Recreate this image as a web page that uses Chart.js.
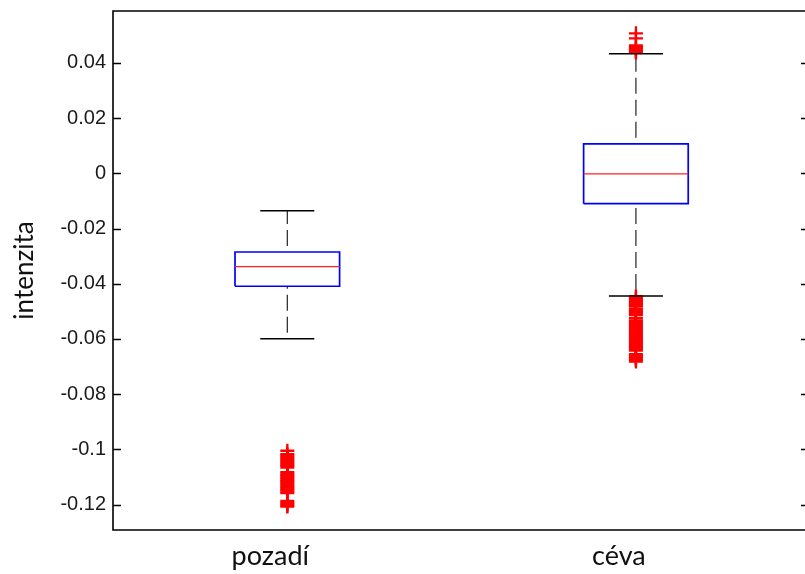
<!DOCTYPE html>
<html>
<head>
<meta charset="utf-8">
<script src="https://cdn.jsdelivr.net/npm/chart.js@4.4.1/dist/chart.umd.min.js"></script>
<style>
  html, body { margin: 0; padding: 0; overflow: hidden; background: #fff; }
  canvas { display: block; }
</style>
</head>
<body>
<canvas id="boxChart" width="805" height="574"></canvas>
<script>
// box plot values
const categories = ['pozadí', 'céva'];
const whiskerLow = [-0.0599, -0.0444];
const quartile1 = [-0.0409, -0.0110];
const medians = [-0.0338, -0.0002];
const quartile3 = [-0.0285, 0.0107];
const whiskerHigh = [-0.0136, 0.0433];

// outliers
const outliersPozadi = [-0.1005, -0.1017, -0.1022, -0.1028, -0.1033, -0.1039, -0.1044, -0.1050,
  -0.1055, -0.1060, -0.1066, -0.1082, -0.1088, -0.1093, -0.1098, -0.1104, -0.1109, -0.1115,
  -0.1120, -0.1126, -0.1131, -0.1137, -0.1142, -0.1147, -0.1153, -0.1158, -0.1187, -0.1193,
  -0.1198, -0.1204, -0.1207];
const outliersCeva = [0.0507, 0.0489, 0.0463, 0.0458, 0.0452, 0.0447, 0.0441, 0.0438,
  -0.0446, -0.0452, -0.0457, -0.0463, -0.0468, -0.0474, -0.0479, -0.0483, -0.0492, -0.0497,
  -0.0503, -0.0508, -0.0513, -0.0524, -0.0533, -0.0539, -0.0544, -0.0550, -0.0555, -0.0561,
  -0.0566, -0.0571, -0.0577, -0.0582, -0.0588, -0.0593, -0.0599, -0.0604, -0.0609, -0.0615,
  -0.0620, -0.0626, -0.0631, -0.0637, -0.0642, -0.0655, -0.0660, -0.0666, -0.0671, -0.0676,
  -0.0682];
const outliers = [outliersPozadi, outliersCeva];

const yTickValues = [-0.12, -0.1, -0.08, -0.06, -0.04, -0.02, 0, 0.02, 0.04];

const boxHalf = 0.15;   // box half width in x units
const capHalf = 0.0775; // whisker cap half width

function segment(points, color, width, extra) {
  return Object.assign({
    type: 'scatter',
    data: points,
    showLine: true,
    fill: false,
    tension: 0,
    pointRadius: 0,
    borderColor: color,
    borderWidth: width,
    borderJoinStyle: 'miter'
  }, extra || {});
}

// build datasets; the first ones are drawn on top
const datasets = [];
categories.forEach((c, i) => {
  const x = i + 1;
  datasets.push(segment([{ x: x - capHalf, y: whiskerHigh[i] }, { x: x + capHalf, y: whiskerHigh[i] }], '#000', 1.5));
  datasets.push(segment([{ x: x - capHalf, y: whiskerLow[i] }, { x: x + capHalf, y: whiskerLow[i] }], '#000', 1.5));
});
categories.forEach((c, i) => {
  datasets.push({
    type: 'scatter',
    data: outliers[i].map(v => ({ x: i + 1, y: v })),
    pointStyle: 'cross',
    pointRadius: 7,
    pointBorderColor: '#ff0000',
    pointBorderWidth: 2.3,
    backgroundColor: '#ff0000',
    borderColor: '#ff0000'
  });
});
categories.forEach((c, i) => {
  const x = i + 1;
  datasets.push(segment([{ x: x - boxHalf, y: medians[i] }, { x: x + boxHalf, y: medians[i] }], '#ff2020', 1.4));
  datasets.push(segment([
    { x: x - boxHalf, y: quartile1[i] }, { x: x + boxHalf, y: quartile1[i] },
    { x: x + boxHalf, y: quartile3[i] }, { x: x - boxHalf, y: quartile3[i] },
    { x: x - boxHalf, y: quartile1[i] }
  ], '#0000ff', 1.7));
  datasets.push(segment([{ x: x, y: quartile3[i] }, { x: x, y: whiskerHigh[i] }], '#222', 1.2,
    { borderDash: [16, 6], borderDashOffset: 16 }));
  datasets.push(segment([{ x: x, y: whiskerLow[i] }, { x: x, y: quartile1[i] }], '#222', 1.2,
    { borderDash: [16, 6], borderDashOffset: 16 }));
});

// frame (right edge lies just outside the picture) and inward ticks
const framePlugin = {
  id: 'frame',
  afterDraw(chart) {
    const { ctx, chartArea: a, scales: { y } } = chart;
    ctx.save();
    ctx.strokeStyle = '#000';
    ctx.lineWidth = 1.6;
    ctx.beginPath();
    ctx.moveTo(a.right + 5, a.top);
    ctx.lineTo(a.left, a.top);
    ctx.lineTo(a.left, a.bottom);
    ctx.lineTo(a.right + 5, a.bottom);
    ctx.stroke();
    ctx.beginPath();
    y.ticks.forEach(t => {
      const py = Math.round(y.getPixelForValue(t.value)) + 0.5;
      ctx.moveTo(a.left, py); ctx.lineTo(a.left + 8, py);
      ctx.moveTo(a.right, py); ctx.lineTo(a.right - 4, py);
    });
    ctx.stroke();
    ctx.restore();
  }
};

new Chart(document.getElementById('boxChart'), {
  type: 'scatter',
  data: { datasets: datasets },
  options: {
    responsive: false,
    animation: false,
    layout: { autoPadding: false, padding: { top: 11, right: 0, left: 0, bottom: 0 } },
    plugins: { legend: { display: false }, tooltip: { enabled: false } },
    scales: {
      x: {
        type: 'linear',
        min: 0.5,
        max: 2.485,
        grid: { display: false, drawTicks: false },
        border: { display: false },
        afterBuildTicks: s => { s.ticks = categories.map((c, i) => ({ value: i + 1 })); },
        afterFit: s => { s.height = 44; s.paddingLeft = 0; s.paddingRight = 0; },
        ticks: {
          padding: 10,
          labelOffset: -17,
          color: '#111',
          font: { family: 'Lato, sans-serif', size: 27 },
          callback: v => categories[Math.round(v) - 1]
        }
      },
      y: {
        type: 'linear',
        min: -0.1292,
        max: 0.0588,
        grid: { display: false, drawTicks: false },
        border: { display: false },
        afterBuildTicks: s => { s.ticks = yTickValues.map(v => ({ value: v })); },
        afterFit: s => { s.width = 113; s.paddingTop = 0; s.paddingBottom = 0; },
        ticks: {
          padding: 7,
          color: '#1a1a1a',
          font: { family: "'Liberation Sans', Arial, sans-serif", size: 20 },
          callback: v => String(Number(v.toFixed(2)))
        },
        title: {
          display: true,
          text: 'intenzita',
          color: '#111',
          font: { family: 'Lato, sans-serif', size: 26 },
          padding: { top: 9, bottom: 0 }
        }
      }
    }
  },
  plugins: [framePlugin]
});
</script>
</body>
</html>
